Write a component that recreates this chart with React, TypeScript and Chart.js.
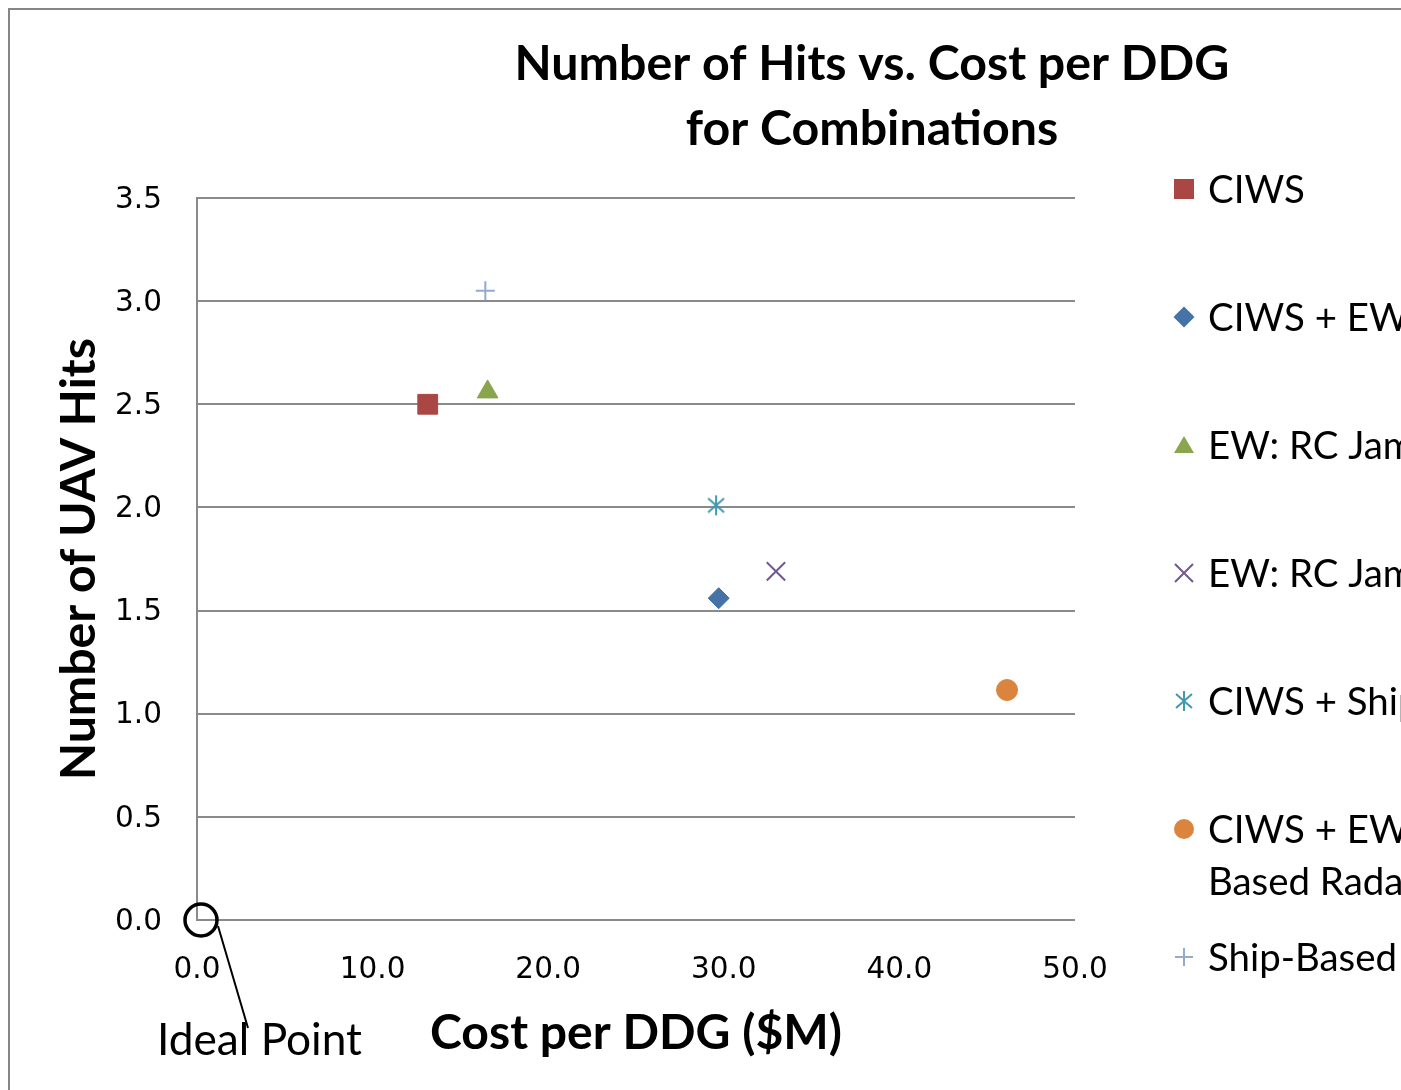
import React, { useEffect, useRef } from 'react';
import { Chart, registerables } from 'chart.js';

Chart.register(...registerables);

// ---------------- data ----------------
const seriesNames = [
  'CIWS',
  'CIWS + EW',
  'EW: RC Jamming',
  'EW: RC Jamming + Radar',
  'CIWS + Ship-Based Radar',
  'CIWS + EW + Ship-Based Radar',
  'Ship-Based Radar',
];
const legendLabelLines = [
  ['CIWS'],
  ['CIWS + EW'],
  ['EW: RC Jamming'],
  ['EW: RC Jamming + Radar'],
  ['CIWS + Ship-Based Radar'],
  ['CIWS + EW + Ship-', 'Based Radar'],
  ['Ship-Based Radar'],
];
const costValues = [13.14, 29.71, 16.55, 32.97, 29.56, 46.13, 16.42];
const hitValues = [2.5, 1.56, 2.56, 1.69, 2.01, 1.115, 3.05];
const seriesColors = ['#AA4643', '#4572A7', '#89A54E', '#71588F', '#4198AF', '#DB843D', '#93A9CF'];
const seriesStyles = ['rect', 'rectRot', 'triangle', 'crossRot', 'asterisk', 'circle', 'cross'];

const titleLines = ['Number of Hits vs. Cost per DDG', 'for Combinations'];
const xTitle = 'Cost per DDG ($M)';
const yTitle = 'Number of UAV Hits';
const annotationText = 'Ideal Point';
const xMin = 0, xMax = 50, xStep = 10;
const yMin = 0, yMax = 3.5, yStep = 0.5;

const SANS = 'Lato, "Open Sans", sans-serif';

function makeAsterisk(color: string): HTMLCanvasElement {
  const c = document.createElement('canvas');
  c.width = 24; c.height = 24;
  const g = c.getContext('2d')!;
  g.strokeStyle = color;
  g.lineWidth = 2;
  g.lineCap = 'butt';
  g.beginPath();
  g.moveTo(12, 2); g.lineTo(12, 22);
  g.moveTo(4, 5); g.lineTo(20, 19);
  g.moveTo(20, 5); g.lineTo(4, 19);
  g.stroke();
  return c;
}

function fit(ctx: CanvasRenderingContext2D, text: string, weight: string, target: number) {
  ctx.font = `${weight} 100px ${SANS}`;
  const w = ctx.measureText(text).width;
  return (100 * target) / w;
}

function drawMarker(ctx: CanvasRenderingContext2D, style: string, color: string, cx: number, cy: number, star: HTMLCanvasElement) {
  ctx.save();
  ctx.fillStyle = color;
  ctx.strokeStyle = color;
  ctx.lineWidth = 2;
  ctx.beginPath();
  switch (style) {
    case 'rect':
      ctx.fillRect(cx - 10, cy - 10, 20, 20);
      break;
    case 'rectRot':
      ctx.moveTo(cx, cy - 10.5); ctx.lineTo(cx + 10.5, cy); ctx.lineTo(cx, cy + 10.5); ctx.lineTo(cx - 10.5, cy);
      ctx.closePath(); ctx.fill();
      break;
    case 'triangle':
      ctx.moveTo(cx, cy - 9); ctx.lineTo(cx + 10, cy + 8); ctx.lineTo(cx - 10, cy + 8);
      ctx.closePath(); ctx.fill();
      break;
    case 'crossRot':
      ctx.moveTo(cx - 9, cy - 9); ctx.lineTo(cx + 9, cy + 9);
      ctx.moveTo(cx + 9, cy - 9); ctx.lineTo(cx - 9, cy + 9);
      ctx.stroke();
      break;
    case 'asterisk':
      ctx.drawImage(star, cx - 12, cy - 12);
      break;
    case 'circle':
      ctx.arc(cx, cy, 10, 0, Math.PI * 2); ctx.fill();
      break;
    case 'cross':
      ctx.moveTo(cx - 9, cy); ctx.lineTo(cx + 9, cy);
      ctx.moveTo(cx, cy - 9); ctx.lineTo(cx, cy + 9);
      ctx.stroke();
      break;
  }
  ctx.restore();
}

export default function App() {
  const ref = useRef<HTMLCanvasElement>(null);

  useEffect(() => {
    const canvas = ref.current!;
    const star = makeAsterisk(seriesColors[4]);

    const decor = {
      id: 'decor',
      afterDraw(chart: any) {
        const ctx: CanvasRenderingContext2D = chart.ctx;
        const xs = chart.scales.x;
        const ys = chart.scales.y;
        ctx.save();
        // outer frame
        ctx.strokeStyle = '#868686';
        ctx.lineWidth = 2;
        ctx.strokeRect(9, 9, 1500, 1500);

        // title
        ctx.fillStyle = '#000';
        ctx.textAlign = 'center';
        ctx.textBaseline = 'alphabetic';
        const ts = fit(ctx, titleLines[0], 'bold', 715);
        ctx.font = `bold ${ts}px ${SANS}`;
        ctx.fillText(titleLines[0], 872, 80);
        ctx.fillText(titleLines[1], 872, 145);

        // x title
        const xts = fit(ctx, xTitle, 'bold', 412);
        ctx.font = `bold ${xts}px ${SANS}`;
        ctx.fillText(xTitle, (chart.chartArea.left + chart.chartArea.right) / 2, 1049);

        // y title
        const yts = fit(ctx, yTitle, 'bold', 442);
        ctx.save();
        ctx.translate(95, (chart.chartArea.top + chart.chartArea.bottom) / 2);
        ctx.rotate(-Math.PI / 2);
        ctx.font = `bold ${yts}px ${SANS}`;
        ctx.fillText(yTitle, 0, 0);
        ctx.restore();

        // ideal point annotation
        const px = xs.getPixelForValue(0) + 4;
        const py = ys.getPixelForValue(0);
        ctx.strokeStyle = '#000';
        ctx.lineWidth = 3.5;
        ctx.beginPath();
        ctx.arc(px, py, 16, 0, Math.PI * 2);
        ctx.stroke();
        ctx.lineWidth = 2;
        ctx.beginPath();
        ctx.moveTo(218, 926);
        ctx.lineTo(248, 1028);
        ctx.stroke();
        const is = fit(ctx, annotationText, 'normal', 205);
        ctx.font = `normal ${is}px ${SANS}`;
        ctx.textAlign = 'left';
        ctx.fillText(annotationText, 157, 1055);

        // legend
        const ls = fit(ctx, 'Ship-Based', 'normal', 189);
        ctx.font = `normal ${ls}px ${SANS}`;
        ctx.textAlign = 'left';
        let cy = 189;
        for (let i = 0; i < seriesNames.length; i++) {
          drawMarker(ctx, seriesStyles[i], seriesColors[i], 1184, cy, star);
          const lines = legendLabelLines[i];
          lines.forEach((ln, k) => ctx.fillText(ln, 1208, cy + 14 + k * 52));
          cy += 128;
        }
        ctx.restore();
      },
    };

    const datasets = seriesNames.map((name, i) => ({
      label: name,
      data: [{ x: costValues[i], y: hitValues[i] }],
      showLine: false,
      pointStyle: seriesStyles[i] === 'asterisk' ? star : seriesStyles[i],
      pointRadius: [14, 10.5, 12, 13, 10, 10.5, 9.5][i],
      pointBackgroundColor: seriesColors[i],
      pointBorderColor: seriesColors[i],
      pointBorderWidth: [1, 1, 1, 2, 2, 1, 2][i],
    }));

    const chart = new Chart(canvas, {
      type: 'scatter',
      data: { datasets } as any,
      plugins: [decor],
      options: {
        responsive: false,
        animation: false,
        devicePixelRatio: 1,
        layout: { padding: { left: 0, right: 326, top: 198, bottom: 0 } },
        plugins: {
          legend: { display: false },
          tooltip: { enabled: false },
          title: { display: false },
        },
        scales: {
          x: {
            type: 'linear',
            min: xMin,
            max: xMax,
            ticks: {
              stepSize: xStep,
              padding: 33,
              color: '#000',
              maxRotation: 0,
              autoSkip: false,
              font: { family: '"DejaVu Sans"', size: 29.5 },
              callback: (v: any) => Number(v).toFixed(1),
            },
            grid: { display: false, drawTicks: false },
            border: { display: false },
            afterFit: (s: any) => {
              s.height = 170;
              s.paddingLeft = 0;
              s.paddingRight = 0;
            },
          },
          y: {
            type: 'linear',
            min: yMin,
            max: yMax,
            ticks: {
              stepSize: yStep,
              padding: 35,
              labelOffset: 2,
              color: '#000',
              font: { family: '"DejaVu Sans"', size: 29.5 },
              callback: (v: any) => Number(v).toFixed(1),
            },
            grid: { color: '#8a8a8a', lineWidth: 2, drawTicks: false },
            border: { display: true, color: '#8a8a8a', width: 2 },
            afterFit: (s: any) => {
              s.width = 197;
              s.paddingTop = 0;
              s.paddingBottom = 0;
            },
          },
        },
      } as any,
    });
    return () => chart.destroy();
  }, []);

  return (
    <div style={{ position: 'fixed', left: 0, top: 0, width: 1401, height: 1090, overflow: 'hidden', background: '#fff' }}>
      <canvas ref={ref} width={1401} height={1090} style={{ display: 'block', width: 1401, height: 1090 }} />
    </div>
  );
}
